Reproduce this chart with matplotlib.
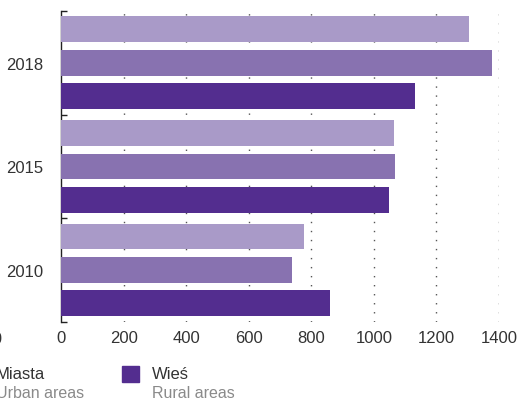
import matplotlib
matplotlib.use("Agg")
import matplotlib.pyplot as plt
from matplotlib.patches import Rectangle

plt.rcParams["font.family"] = ["Liberation Sans", "DejaVu Sans"]

# Data
years = ["2010", "2015", "2018"]
series_names = ["Ogółem", "Miasta", "Wieś"]
series_sub = ["Total", "Urban areas", "Rural areas"]
total = [776, 1063, 1305]
urban = [737, 1069, 1379]
rural = [859, 1047, 1133]
x_ticks = [0, 200, 400, 600, 800, 1000, 1200, 1400]

colors = ["#a99ac8", "#8872b0", "#532d8f"]
text_col = "#333333"

W, H = 520, 402
fig = plt.figure(figsize=(W / 100, H / 100), dpi=100)
ax = fig.add_axes([61 / W, 1 - 323 / H, (499 - 61) / W, (323 - 12) / H])

# bars inside each year group, light on top, dark at the bottom
offsets = [0.325, 0.0, -0.32]
for vals, off, c in zip([total, urban, rural], offsets, colors):
    ys = [i + 0.5 + off for i in range(len(years))]
    ax.barh(ys, vals, height=0.25, color=c, zorder=3)

ax.set_xlim(0, 1400)
ax.set_ylim(0, 3)

# dotted vertical grid
for xv in x_ticks[1:]:
    ax.axvline(xv, color="#555555", lw=1.0, ls=(0, (1, 5.5)), zorder=1)

ax.set_xticks(x_ticks)
ax.set_xticklabels([str(v) for v in x_ticks], fontsize=12, color=text_col)
ax.tick_params(axis="x", length=0, pad=6)

ax.set_yticks([0.5, 1.5, 2.5])
ax.set_yticklabels(years, fontsize=12, color=text_col)
ax.tick_params(axis="y", which="major", length=0, pad=13)
ax.set_yticks([0, 1, 2, 3], minor=True)
ax.tick_params(axis="y", which="minor", direction="in", length=4, width=1, color="#222222")

for s in ["top", "right", "bottom"]:
    ax.spines[s].set_visible(False)
ax.spines["left"].set_color("#222222")
ax.spines["left"].set_linewidth(1.0)

# neighbouring panel's last tick label, cut by the edge
fig.text(3 / W, 1 - 340 / H, "1400", fontsize=12, color=text_col,
         ha="right", va="center")

# legend (first entry sits beyond the left edge)
leg_x = [-190, -34, 122]
for lx, name, sub, c in list(zip(leg_x, series_names, series_sub, colors))[1:]:
    fig.patches.append(Rectangle((lx / W, 1 - 383 / H), 17 / W, 16 / H,
                                 transform=fig.transFigure, color=c))
    fig.text((lx + 30) / W, 1 - 375 / H, name, fontsize=12, color=text_col,
             ha="left", va="center")
    fig.text((lx + 30) / W, 1 - 394 / H, sub, fontsize=11.5, color="#8a8a8a",
             ha="left", va="center")

fig.savefig("out.png", dpi=100)
